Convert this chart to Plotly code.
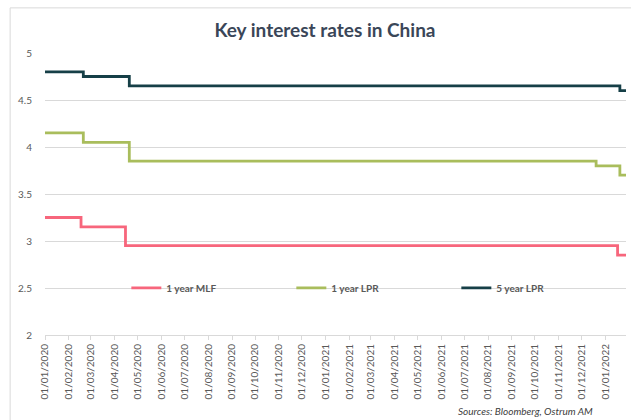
import plotly.graph_objects as go

# Policy rate changes (date the new level takes effect), in %
mlf_dates = ["2020-01-01", "2020-02-17", "2020-04-15", "2022-01-17", "2022-01-28"]
mlf_values = [3.25, 3.15, 2.95, 2.85, 2.85]

lpr1_dates = ["2020-01-01", "2020-02-20", "2020-04-20", "2021-12-20", "2022-01-20", "2022-01-28"]
lpr1_values = [4.15, 4.05, 3.85, 3.80, 3.70, 3.70]

lpr5_dates = ["2020-01-01", "2020-02-20", "2020-04-20", "2022-01-20", "2022-01-28"]
lpr5_values = [4.80, 4.75, 4.65, 4.60, 4.60]

series = [
    ("1 year MLF", mlf_dates, mlf_values, "#f7667c"),
    ("1 year LPR", lpr1_dates, lpr1_values, "#a9bd5c"),
    ("5 year LPR", lpr5_dates, lpr5_values, "#163f47"),
]

FONT = "Lato, 'Open Sans', sans-serif"

fig = go.Figure()
for name, xs, ys, color in series:
    fig.add_trace(go.Scatter(
        x=xs, y=ys, name=name, mode="lines",
        line=dict(color=color, width=2.8, shape="hv"),
    ))

fig.update_layout(
    width=631, height=420,
    margin=dict(l=45, r=5, t=53, b=85),
    paper_bgcolor="white", plot_bgcolor="white",
    font=dict(family=FONT, color="#595959", size=10),
    title=dict(text="<b>Key interest rates in China</b>",
               x=0.515, xanchor="center", y=0.928, yanchor="middle",
               font=dict(size=19, color="#3a4658", family=FONT)),
    showlegend=True,
    legend=dict(orientation="h", x=0.14, xanchor="left", y=0.167, yanchor="middle",
                bgcolor="rgba(0,0,0,0)", entrywidth=120, entrywidthmode="pixels",
                tracegroupgap=0, itemwidth=30,
                font=dict(size=10, color="#595959", family=FONT, weight="bold")),
    xaxis=dict(
        type="date", range=["2020-01-01", "2022-01-28"],
        dtick="M1", tick0="2020-01-01", tickformat="%d/%m/%Y", tickangle=-90,
        showgrid=False, showline=True, linecolor="#d9d9d9", linewidth=1,
        ticks="outside", ticklen=4, tickcolor="#d9d9d9",
        tickfont=dict(size=10, color="#595959"),
    ),
    yaxis=dict(
        range=[2, 5], dtick=0.5, showgrid=True, gridcolor="#d9d9d9", gridwidth=1,
        zeroline=False, showline=False, ticks="", ticklabelstandoff=12,
        tickfont=dict(size=10, color="#595959"),
    ),
)

# Chart frame
fig.add_shape(type="rect", xref="paper", yref="paper",
              x0=-0.060, x1=1.02, y0=-0.40, y1=1.16,
              line=dict(color="#d9d9d9", width=1), fillcolor="rgba(0,0,0,0)", layer="below")

fig.add_annotation(text="<i>Sources: Bloomberg, Ostrum AM</i>", xref="paper", yref="paper",
                   x=0.946, y=-0.27, xanchor="right", yanchor="middle", showarrow=False,
                   font=dict(size=10, color="#404040", family=FONT))

fig.write_html("out.html")
